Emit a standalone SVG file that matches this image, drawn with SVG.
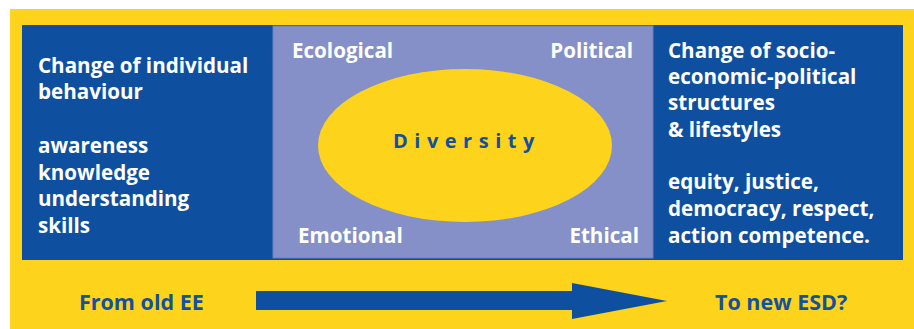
<svg xmlns="http://www.w3.org/2000/svg" width="914" height="329" viewBox="0 0 914 329">
<style>
.w{fill:#ffffff;font-family:"Open Sans","Liberation Sans",sans-serif;font-weight:700;font-size:20.6px}
.b{fill:#1450a0;font-family:"Open Sans","Liberation Sans",sans-serif;font-weight:700;font-size:21.5px}
</style>
<rect x="0" y="0" width="914" height="329" fill="#ffffff"/>
<rect x="10" y="9" width="904" height="320" fill="#fdd31b"/>
<g id="left-panel">
<rect x="22" y="25" width="881" height="235" fill="#0e4fa0"/>
<text class="w" x="38"><tspan x="38" y="73">Change of individual</tspan><tspan x="38" y="99">behaviour</tspan><tspan x="38" y="153">awareness</tspan><tspan x="38" y="180">knowledge</tspan><tspan x="38" y="206">understanding</tspan><tspan x="38" y="233">skills</tspan></text>
</g>
<g id="center-panel">
<rect x="273" y="26" width="380" height="232" fill="#8490c7" stroke="#6f7fbd" stroke-width="1"/>
<ellipse cx="465" cy="145.5" rx="147" ry="76.5" fill="#fdd31b"/>
<text class="w" x="292" y="58">Ecological</text>
<text class="w" x="633" y="58" text-anchor="end">Political</text>
<text class="w" x="298" y="243">Emotional</text>
<text class="w" x="639" y="243" text-anchor="end">Ethical</text>
<text x="393" y="148" fill="#1450a0" font-family="'Open Sans','Liberation Sans',sans-serif" font-weight="700" font-size="20" letter-spacing="6.5">Diversity</text>
</g>
<g id="right-panel">
<text class="w"><tspan x="668" y="58">Change of socio-</tspan><tspan x="668" y="84">economic-political</tspan><tspan x="668" y="110">structures</tspan><tspan x="668" y="137">&amp; lifestyles</tspan><tspan x="668" y="189">equity, justice,</tspan><tspan x="668" y="216">democracy, respect,</tspan><tspan x="668" y="243">action competence.</tspan></text>
</g>
<g id="connectors">
<polygon points="256,291 572,291 572,283 667,301 572,319 572,310 256,310" fill="#0e4fa0"/>
</g>
<g id="from-label"><text class="b" x="79" y="310">From old EE</text></g>
<g id="to-label"><text class="b" x="715" y="310">To new ESD?</text></g>
</svg>
